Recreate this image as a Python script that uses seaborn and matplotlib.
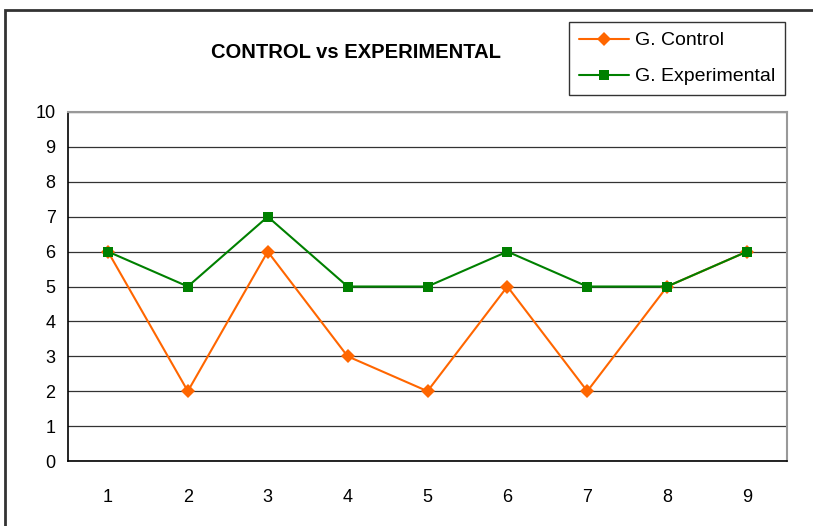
import matplotlib
matplotlib.use("Agg")
import matplotlib.pyplot as plt
import matplotlib.patches as mpatches
import seaborn as sns
import pandas as pd

sesiones = [1, 2, 3, 4, 5, 6, 7, 8, 9]
control = [6, 2, 6, 3, 2, 5, 2, 5, 6]
experimental = [6, 5, 7, 5, 5, 6, 5, 5, 6]

sns.set_style("white")
plt.rcParams['font.family'] = ['Liberation Sans', 'DejaVu Sans']
plt.rcParams['text.color'] = 'black'
plt.rcParams['xtick.color'] = 'black'
plt.rcParams['ytick.color'] = 'black'

df = pd.DataFrame({
    "sesion": sesiones * 2,
    "valor": control + experimental,
    "grupo": ["G. Control"] * 9 + ["G. Experimental"] * 9,
})

fig = plt.figure(figsize=(8.13, 5.26), dpi=100)
ax = fig.add_axes([68 / 813, 65 / 526, 719 / 813, 349 / 526])

sns.lineplot(data=df, x="sesion", y="valor", hue="grupo", style="grupo",
             markers={"G. Control": "D", "G. Experimental": "s"}, dashes=False,
             palette={"G. Control": "#FF6600", "G. Experimental": "#008000"},
             markersize=7.5, linewidth=1.5, markeredgewidth=0, ax=ax, legend=False)

ax.set_xlim(0.5, 9.5)
ax.set_ylim(0, 10)
ax.set_yticks(range(0, 11))
ax.set_xticks(sesiones)
ax.set_xticks([i + 0.5 for i in range(0, 10)], minor=True)
ax.tick_params(axis="x", which="major", length=0, pad=20, labelsize=13)
ax.tick_params(axis="x", which="minor", length=5, width=1, color="black", direction="out")
ax.tick_params(axis="y", length=5, width=1, color="black", direction="out", labelsize=13, pad=4)
ax.set_xlabel("")
ax.set_ylabel("")
ax.yaxis.grid(True, color="#333333", linewidth=0.9)
ax.set_axisbelow(True)

for side in ["left", "bottom"]:
    ax.spines[side].set_color("black")
    ax.spines[side].set_linewidth(1.2)
for side in ["top", "right"]:
    ax.spines[side].set_color("#999999")
    ax.spines[side].set_linewidth(1.5)

fig.text(356 / 813, 1 - 53 / 526, "CONTROL vs EXPERIMENTAL", ha="center", va="center",
         fontsize=14.5, fontweight="bold")

handles = [
    plt.Line2D([], [], color="#FF6600", marker="D", markersize=7.5, markeredgewidth=0, linewidth=1.5),
    plt.Line2D([], [], color="#008000", marker="s", markersize=7.5, markeredgewidth=0, linewidth=1.5),
]
leg = fig.legend(handles, ["G. Control", "G. Experimental"], loc="upper right",
                 bbox_to_anchor=(785 / 813, 1 - 22 / 526), fontsize=14, frameon=True,
                 fancybox=False, edgecolor="black", handlelength=2.6, borderpad=0.5,
                 labelspacing=0.95, handletextpad=0.3, borderaxespad=0)
leg.get_frame().set_linewidth(1)

fig.patches.append(mpatches.Rectangle((5 / 813, -0.1), 1.2, 1 - 10 / 526 + 0.1,
                                      transform=fig.transFigure, fill=False,
                                      edgecolor="#333333", linewidth=2))

fig.savefig("out.png", dpi=100)
